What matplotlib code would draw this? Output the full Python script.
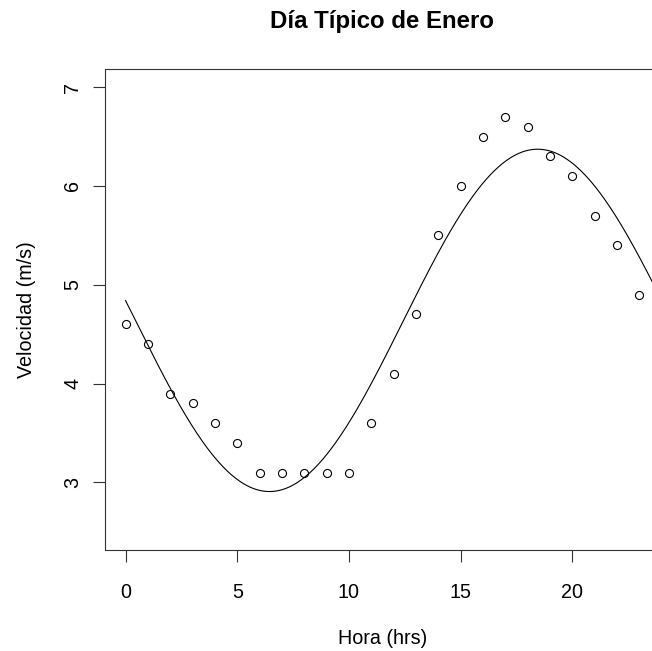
import numpy as np
import matplotlib
matplotlib.use("Agg")
import matplotlib.pyplot as plt

plt.rcParams['font.family'] = ['Liberation Sans', 'DejaVu Sans']

# hourly mean wind speed, January
hora = list(range(24))
velocidad = [4.6, 4.4, 3.9, 3.8, 3.6, 3.4, 3.1, 3.1, 3.1, 3.1, 3.1, 3.6,
             4.1, 4.7, 5.5, 6.0, 6.5, 6.7, 6.6, 6.3, 6.1, 5.7, 5.4, 4.9]

# harmonic fit  v = a0 + a1*sin(2*pi*t/24) + b1*cos(2*pi*t/24)
a0 = 4.64
a1 = -1.72
b1 = 0.20
periodo = 24

x_ticks = [0, 5, 10, 15, 20]
y_ticks = [3, 4, 5, 6, 7]

fig = plt.figure(figsize=(6.52, 6.51), dpi=100)
ax = fig.add_axes([105 / 652, 101.3 / 651, 555 / 652, 480.4 / 651])

ax.plot(hora, velocidad, 'o', mfc='none', mec='black', ms=5.8, mew=0.8)

t = np.linspace(0, 25, 400)
ajuste = a0 + a1 * np.sin(2 * np.pi * t / periodo) + b1 * np.cos(2 * np.pi * t / periodo)
ax.plot(t, ajuste, color='black', lw=0.8)

ax.set_xlim(-0.92, 23.92)
ax.set_ylim(2.32, 7.18)

ax.set_xticks(x_ticks)
ax.set_yticks(y_ticks)
ax.tick_params(direction='out', length=8.6, width=0.8, colors='#333333',
               labelcolor='black', labelsize=14.2)
ax.tick_params(axis='x', pad=15.2)
ax.tick_params(axis='y', pad=7.6)
for lab in ax.get_yticklabels():
    lab.set_rotation(90)
    lab.set_va('center')
    lab.set_ha('right')

for s in ax.spines.values():
    s.set_linewidth(0.8)
    s.set_color('#333333')

ax.set_xlabel('Hora (hrs)', fontsize=14.2)
ax.xaxis.label.set_va('baseline')
ax.xaxis.set_label_coords(0.5, -0.197)
ax.set_ylabel('Velocidad (m/s)', fontsize=14.2)
ax.yaxis.label.set_va('baseline')
ax.yaxis.set_label_coords(-0.132, 0.5)

ax.set_title('Día Típico de Enero', fontsize=17.3, fontweight='bold', y=1.0853, pad=0)

fig.savefig('out.png', dpi=100)
